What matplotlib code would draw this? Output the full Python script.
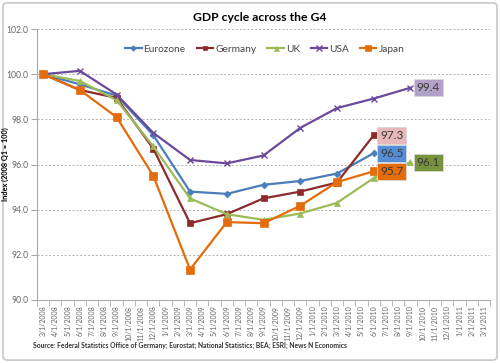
import matplotlib
matplotlib.use('Agg')
import matplotlib.pyplot as plt
from matplotlib.patches import FancyBboxPatch
from matplotlib.ticker import FixedLocator, FormatStrFormatter

plt.rcParams['font.family'] = ['Lato', 'DejaVu Sans']

# month labels on the date axis (3/1/2008 .. 3/1/2011)
meses = ['%d/1/%d' % ((m % 12) + 1, 2008 + m // 12) for m in range(2, 2 + 37)]

# quarterly observation dates
fechas = ['3/1/2008', '6/1/2008', '9/1/2008', '12/1/2008', '3/1/2009', '6/1/2009',
          '9/1/2009', '12/1/2009', '3/1/2010', '6/1/2010', '9/1/2010']

eurozone = [100.0, 99.55, 99.05, 97.3, 94.8, 94.7, 95.1, 95.27, 95.6, 96.5]
germany = [100.0, 99.3, 98.95, 96.7, 93.4, 93.8, 94.5, 94.8, 95.2, 97.3]
uk = [100.0, 99.7, 98.85, 96.8, 94.5, 93.8, 93.55, 93.83, 94.3, 95.4, 96.1]
usa = [100.0, 100.15, 99.1, 97.4, 96.2, 96.05, 96.4, 97.62, 98.5, 98.92, 99.4]
japan = [100.0, 99.3, 98.1, 95.5, 91.35, 93.45, 93.4, 94.17, 95.22, 95.7]

series = [
    ('Eurozone', eurozone, '#4a7ebb', 'D', 3.5, '#558ed5'),
    ('Germany', germany, '#8c2b29', 's', 4, '#e6b9b8'),
    ('UK', uk, '#9bbb59', '^', 4.5, '#77933c'),
    ('USA', usa, '#6a4a9c', 'x', 5, '#b3a2c7'),
    ('Japan', japan, '#e46c0a', 's', 5.5, '#e46c0a'),
]

fig = plt.figure(figsize=(5, 3.63), dpi=100)
borde = FancyBboxPatch((0.006, 0.008), 0.988, 0.984, boxstyle='round,pad=0,rounding_size=0.01',
                       transform=fig.transFigure, facecolor='none',
                       edgecolor='#c8c8c8', linewidth=1.2, zorder=-1)
fig.patches.append(borde)
ax = fig.add_axes([0.074, 0.1736, 0.906, 0.7464])
ax.set_facecolor('none')

for nombre, valores, color, marca, tam, caja in series:
    x = [meses.index(f) for f in fechas[:len(valores)]]
    ax.plot(x, valores, color=color, marker=marca, markersize=tam, linewidth=1.6,
            markeredgewidth=1 if marca == 'x' else 0.5, label=nombre, zorder=3)
    ax.annotate('%.1f' % valores[-1], (x[-1], valores[-1]), xytext=(4.5, 0),
                textcoords='offset points', va='center', ha='left', fontsize=8.5,
                color='#3a3a3a',
                bbox=dict(boxstyle='square,pad=0.25', facecolor=caja, edgecolor='#d8d8d8', linewidth=0.6),
                zorder=4)

ax.set_xlim(-0.5, 36.5)
ax.set_ylim(90, 102)
ax.set_yticks([90, 92, 94, 96, 98, 100, 102])
ax.yaxis.set_major_formatter(FormatStrFormatter('%.1f'))
ax.set_xticks(range(len(meses)))
ax.set_xticklabels(meses, rotation=90, fontsize=5.0, color='#666666')
ax.xaxis.set_minor_locator(FixedLocator([i - 0.5 for i in range(len(meses) + 1)]))
ax.tick_params(axis='x', which='major', length=0, pad=4)
ax.tick_params(axis='x', which='minor', length=4, color='#aaaaaa', direction='out')
ax.tick_params(axis='y', labelsize=6.2, labelcolor='#666666', length=4, color='#aaaaaa', pad=2)
ax.grid(axis='y', linestyle=(0, (2, 2)), color='#b0b0b0', linewidth=0.7)
for lado in ['top', 'right']:
    ax.spines[lado].set_visible(False)
ax.spines['left'].set_color('#aaaaaa')
ax.spines['bottom'].set_color('#aaaaaa')

ax.set_ylabel('Index (2008 Q1 = 100)', fontsize=5.3, fontweight='bold')
ax.yaxis.set_label_coords(-0.061, 0.5)

leg = ax.legend(loc='center', bbox_to_anchor=(0.503, 0.926), ncol=5, frameon=False,
                fontsize=7.3, handlelength=1.6, handletextpad=0.2, columnspacing=1.1,
                markerscale=0.8)
for t in leg.get_texts():
    t.set_color('#444444')

fig.text(0.52, 0.953, 'GDP cycle across the G4', ha='center', va='center',
         fontsize=8.7, fontweight='bold')
fig.text(0.066, 0.048, 'Source: Federal Statistics Office of Germany; Eurostat; National Statistics; BEA; ESRI; News N Economics',
         ha='left', va='center', fontsize=4.9, fontweight='bold', color='#333333')

fig.savefig('out.png', dpi=100)
